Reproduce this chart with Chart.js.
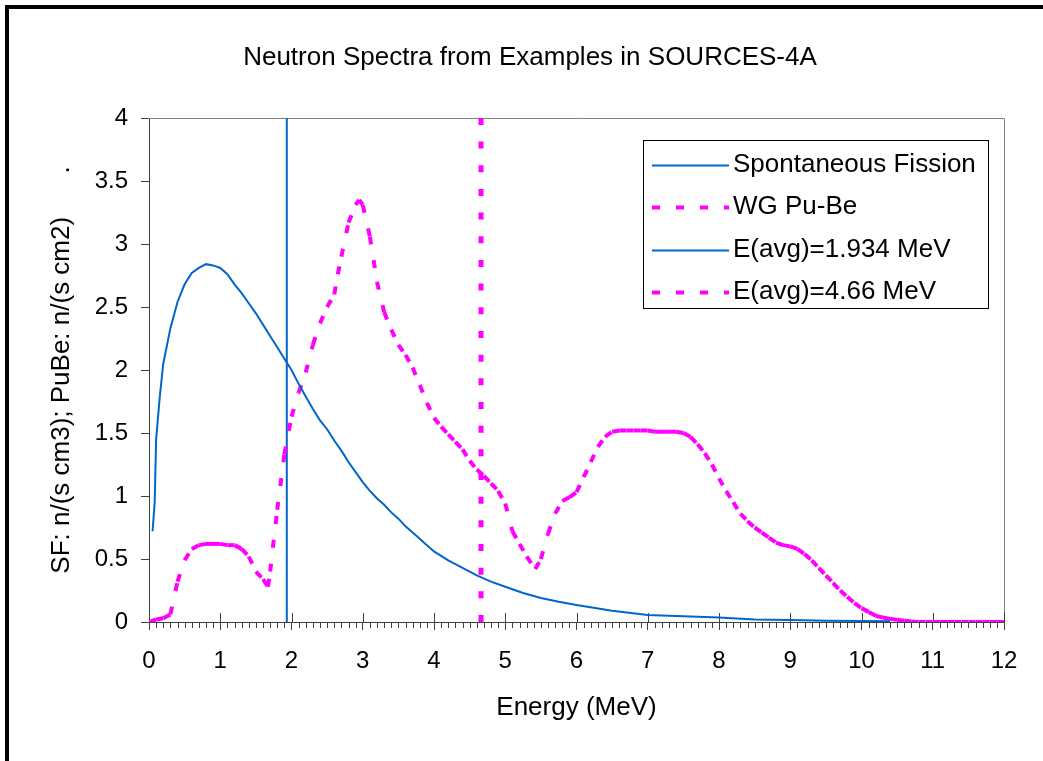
<!DOCTYPE html>
<html>
<head>
<meta charset="utf-8">
<script src="https://cdn.jsdelivr.net/npm/chart.js@4"></script>
<style>
  html, body { margin: 0; padding: 0; background: #fff; }
  #wrap { position: relative; width: 1043px; height: 761px; overflow: hidden; }
  #frame { position: absolute; left: 5px; top: 5px; width: 1100px; height: 800px;
           border-left: 4px solid #000; border-top: 4px solid #000; pointer-events: none; }
</style>
</head>
<body>
<div id="wrap">
  <canvas id="chart" width="1043" height="761"></canvas>
  <div id="frame"></div>
</div>
<script>
// Spectre fission spontanee (n/(s cm3))
const sfEnergy = [0.05, 0.08, 0.1, 0.15, 0.2, 0.3, 0.4, 0.5, 0.6, 0.7, 0.8, 0.9, 1.0, 1.1, 1.2, 1.3, 1.4, 1.5, 1.6, 1.7,
  1.8, 1.9, 2.0, 2.1, 2.2, 2.3, 2.4, 2.5, 2.6, 2.7, 2.8, 2.9, 3.0, 3.1, 3.2, 3.3, 3.4, 3.5, 3.6, 3.7, 3.8, 3.9, 4.0,
  4.2, 4.4, 4.6, 4.8, 5.0, 5.25, 5.5, 5.75, 6.0, 6.5, 7.0, 7.5, 8.0, 8.5, 9.0, 9.5, 10.0, 10.4];
const sfFlux = [0.72, 0.95, 1.45, 1.78, 2.05, 2.33, 2.54, 2.68, 2.77, 2.81, 2.84, 2.83, 2.81, 2.76, 2.68, 2.61, 2.53, 2.45, 2.36, 2.27,
  2.18, 2.09, 2.00, 1.89, 1.79, 1.69, 1.60, 1.53, 1.44, 1.36, 1.27, 1.19, 1.11, 1.04, 0.98, 0.93, 0.87, 0.82, 0.76, 0.71, 0.66, 0.61, 0.56,
  0.49, 0.43, 0.37, 0.32, 0.28, 0.23, 0.19, 0.16, 0.135, 0.09, 0.056, 0.045, 0.035, 0.02, 0.016, 0.009, 0.008, 0.005];

// Spectre WG Pu-Be (n/(s cm2))
const pubeEnergy = [0.0, 0.1, 0.2, 0.3, 0.4, 0.5, 0.6, 0.7, 0.8, 0.9, 1.0, 1.1, 1.2, 1.3, 1.4, 1.5, 1.6, 1.67, 1.7, 1.8,
  1.9, 2.0, 2.1, 2.2, 2.3, 2.4, 2.5, 2.6, 2.65, 2.7, 2.8, 2.9, 2.95, 3.0, 3.1, 3.2, 3.3, 3.4, 3.5, 3.6,
  3.7, 3.8, 3.9, 4.0, 4.1, 4.2, 4.3, 4.4, 4.5, 4.6, 4.7, 4.8, 4.9, 5.0, 5.1, 5.2, 5.3, 5.42, 5.5, 5.6,
  5.7, 5.8, 5.9, 6.0, 6.1, 6.2, 6.3, 6.4, 6.5, 6.6, 6.7, 6.8, 6.9, 7.0, 7.1, 7.2, 7.3, 7.4, 7.5, 7.6,
  7.7, 7.8, 7.9, 8.0, 8.1, 8.2, 8.3, 8.4, 8.5, 8.6, 8.7, 8.8, 8.9, 9.0, 9.1, 9.2, 9.3, 9.4, 9.5, 9.6,
  9.7, 9.8, 9.9, 10.0, 10.1, 10.2, 10.3, 10.4, 10.5, 10.6, 10.7, 10.8, 10.9, 11.0, 11.1, 11.2, 11.3, 11.4, 11.5, 11.6,
  11.7, 11.8, 11.9, 12.0];
const pubeFlux = [0.00, 0.02, 0.03, 0.06, 0.32, 0.49, 0.58, 0.61, 0.62, 0.62, 0.62, 0.61, 0.61, 0.58, 0.52, 0.40, 0.34, 0.28, 0.40, 0.89,
  1.33, 1.63, 1.82, 1.98, 2.20, 2.37, 2.50, 2.60, 2.76, 2.90, 3.17, 3.31, 3.35, 3.31, 3.06, 2.70, 2.46, 2.32, 2.20, 2.12,
  2.02, 1.88, 1.74, 1.62, 1.55, 1.49, 1.43, 1.37, 1.28, 1.21, 1.16, 1.10, 1.04, 0.94, 0.72, 0.62, 0.52, 0.42, 0.50, 0.70,
  0.86, 0.96, 0.99, 1.03, 1.15, 1.27, 1.39, 1.47, 1.51, 1.52, 1.52, 1.52, 1.52, 1.52, 1.51, 1.51, 1.51, 1.51, 1.50, 1.47,
  1.41, 1.34, 1.25, 1.14, 1.04, 0.95, 0.86, 0.80, 0.75, 0.71, 0.67, 0.63, 0.61, 0.60, 0.58, 0.54, 0.49, 0.43, 0.37, 0.31,
  0.25, 0.20, 0.15, 0.11, 0.08, 0.05, 0.035, 0.025, 0.017, 0.01, 0.004, 0, 0, 0, 0, 0, 0, 0, 0, 0,
  0, 0, 0, 0];

// Energies moyennes (traits verticaux)
const sfAvg = 1.934;
const pubeAvg = 4.66;
const yRange = [0, 4];

const seriesLabels = ['Spontaneous Fission', 'WG Pu-Be', 'E(avg)=1.934 MeV', 'E(avg)=4.66 MeV'];
const xTicks = [0, 1, 2, 3, 4, 5, 6, 7, 8, 9, 10, 11, 12];
const yTicks = [0, 0.5, 1, 1.5, 2, 2.5, 3, 3.5, 4];

const BLUE = '#0066CC';
const PINK = '#FF00FF';
const FONT = "'Liberation Sans', Arial, sans-serif";

Chart.defaults.font.family = FONT;
Chart.defaults.color = '#000';

const toPoints = (xs, ys) => xs.map((x, i) => ({ x: x, y: ys[i] }));

// Cadre gris du haut / droite + graduations (mineures et internes)
const plotFrame = {
  id: 'plotFrame',
  beforeDatasetsDraw(chart) {
    const { ctx, chartArea: a, scales } = chart;
    ctx.save();
    ctx.lineWidth = 1;
    ctx.strokeStyle = '#808080';
    ctx.beginPath();
    ctx.moveTo(a.left, a.top + 0.5);
    ctx.lineTo(a.right + 0.5, a.top + 0.5);
    ctx.lineTo(a.right + 0.5, a.bottom);
    ctx.stroke();

    ctx.strokeStyle = '#404040';
    ctx.beginPath();
    const xs = scales.x;
    for (let i = 0; i <= 120; i++) {
      const px = Math.round(xs.getPixelForValue(i / 10)) + 0.5;
      if (i % 10 === 0) {
        ctx.moveTo(px, a.bottom - 9);
        ctx.lineTo(px, a.bottom);
      } else {
        ctx.moveTo(px, a.bottom);
        ctx.lineTo(px, a.bottom + 6);
      }
    }
    ctx.stroke();
    ctx.restore();
  }
};

// Legende dessinee dans la zone du graphique
const boxLegend = {
  id: 'boxLegend',
  afterDraw(chart) {
    const { ctx } = chart;
    const left = 643, top = 140, w = 345, h = 168;
    ctx.save();
    ctx.fillStyle = '#fff';
    ctx.fillRect(left, top, w, h);
    ctx.strokeStyle = '#000';
    ctx.lineWidth = 1;
    ctx.strokeRect(left + 0.5, top + 0.5, w, h);
    ctx.font = '26px ' + FONT;
    ctx.textBaseline = 'middle';
    ctx.fillStyle = '#000';
    chart.data.datasets.forEach((ds, i) => {
      const y = 165 + i * 42.3;
      ctx.save();
      ctx.strokeStyle = ds.borderColor;
      ctx.lineWidth = ds.legendWidth;
      ctx.setLineDash(ds.legendDash);
      ctx.beginPath();
      ctx.moveTo(652, Math.round(y) + 0.5);
      ctx.lineTo(729, Math.round(y) + 0.5);
      ctx.stroke();
      ctx.restore();
      ctx.fillText(ds.label, 733, y);
    });
    ctx.restore();
  }
};

new Chart(document.getElementById('chart'), {
  type: 'line',
  data: {
    datasets: [
      {
        label: seriesLabels[0],
        data: toPoints(sfEnergy, sfFlux),
        borderColor: BLUE, borderWidth: 2, pointRadius: 0, tension: 0,
        legendWidth: 2, legendDash: []
      },
      {
        label: seriesLabels[1],
        data: toPoints(pubeEnergy, pubeFlux),
        borderColor: PINK, borderWidth: 4, pointRadius: 0, tension: 0,
        borderDash: [8, 16], borderCapStyle: 'butt',
        // chaque segment redemarre le pointille (comme Excel)
        segment: { borderDashOffset: c => (c.p0DataIndex % 2 ? 0.001 : 0) },
        legendWidth: 4, legendDash: [8, 16]
      },
      {
        label: seriesLabels[2],
        data: [{ x: sfAvg, y: yRange[0] }, { x: sfAvg, y: yRange[1] }],
        borderColor: BLUE, borderWidth: 2, pointRadius: 0,
        legendWidth: 2, legendDash: []
      },
      {
        label: seriesLabels[3],
        data: [{ x: pubeAvg, y: yRange[0] }, { x: pubeAvg, y: yRange[1] }],
        borderColor: PINK, borderWidth: 5, pointRadius: 0,
        borderDash: [7, 16.67],
        legendWidth: 4, legendDash: [8, 16]
      }
    ]
  },
  options: {
    responsive: false,
    animation: false,
    layout: { padding: { left: 56, right: 39, top: 0, bottom: 0 } },
    plugins: {
      legend: { display: false },
      tooltip: { enabled: false },
      title: {
        display: true,
        text: 'Neutron Spectra from Examples in SOURCES-4A',
        font: { size: 26, weight: 'normal' },
        color: '#000',
        padding: { top: 41.8, bottom: 45 }
      }
    },
    scales: {
      x: {
        type: 'linear',
        min: xTicks[0], max: xTicks[xTicks.length - 1],
        afterFit: s => { s.height = 139; },
        afterBuildTicks: s => { s.ticks = xTicks.map(v => ({ value: v })); },
        grid: { drawOnChartArea: false, drawTicks: true, tickLength: 8, color: '#404040' },
        border: { color: '#404040' },
        ticks: { font: { size: 24 }, padding: 16.6, maxRotation: 0, autoSkip: false, callback: v => String(v) },
        title: { display: true, text: 'Energy (MeV)', font: { size: 26 }, padding: { top: 0, bottom: 37.4 } }
      },
      y: {
        min: yRange[0], max: yRange[1],
        afterFit: s => { s.width = 93; },
        afterBuildTicks: s => { s.ticks = yTicks.map(v => ({ value: v })); },
        grid: { drawOnChartArea: false, drawTicks: true, tickLength: 8, color: '#404040' },
        border: { color: '#404040' },
        ticks: { font: { size: 24 }, padding: 13, callback: v => String(v) },
        title: { display: true, text: 'SF: n/(s cm3); PuBe: n/(s cm2)      .', font: { size: 26 }, padding: { top: -9.6, bottom: 0 } }
      }
    }
  },
  plugins: [plotFrame, boxLegend]
});
</script>
</body>
</html>
